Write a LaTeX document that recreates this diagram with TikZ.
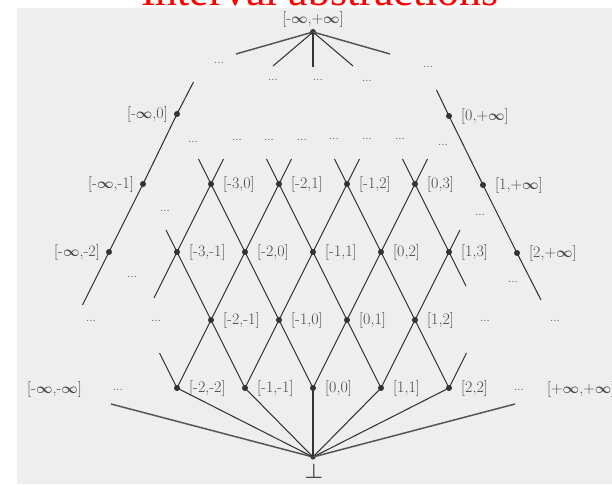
\documentclass[tikz,border=0pt]{standalone}
\usepackage{fontspec}
\newfontfamily\titlefont{Liberation Serif}
\definecolor{bgc}{HTML}{EEEEEE}
\definecolor{linec}{HTML}{333333}
\definecolor{labc}{HTML}{484848}
\definecolor{fanc}{HTML}{555555}
\newcommand\infy{{\fontsize{14}{16}\selectfont\boldmath$\infty$}}
\begin{document}
\begin{tikzpicture}[x=1pt,y=-1pt,
  dot/.style={circle,fill=linec,inner sep=0pt,minimum size=6pt},
  lab/.style={inner sep=0pt,text=labc,font=\fontsize{16}{18}\selectfont},
  dd/.style={inner sep=0pt,text=labc,font=\fontsize{12}{14}\selectfont},
  edge/.style={draw=linec,line width=1.05pt},
  fan/.style={draw=fanc,line width=1.5pt}]
\useasboundingbox (0,0) rectangle (612,484);
\fill[bgc] (17,8) rectangle (612,484);
\node[font=\titlefont\fontsize{44}{50}\selectfont,text=red,anchor=base,inner sep=0pt] (title) at (320,5.5) {Interval abstractions};

% dots
\node[dot] (top) at (313,32) {};
\node[dot,minimum size=5pt] (bot) at (313,457) {};
\node[dot] (mi0) at (177,114) {};
\node[dot] (mi1) at (143,184) {};
\node[dot] (mi2) at (109,252) {};
\node[dot] (pi0) at (449,116) {};
\node[dot] (pi1) at (483,185) {};
\node[dot] (pi2) at (517,253) {};
\node[dot] (a30) at (211,184) {};
\node[dot] (a21) at (279,184) {};
\node[dot] (a12) at (347,184) {};
\node[dot] (a03) at (415,184) {};
\node[dot] (b31) at (177,252) {};
\node[dot] (b20) at (245,252) {};
\node[dot] (b11) at (313,252) {};
\node[dot] (b02) at (381,252) {};
\node[dot] (b13) at (449,252) {};
\node[dot] (c21) at (211,320) {};
\node[dot] (c10) at (279,320) {};
\node[dot] (c01) at (347,320) {};
\node[dot] (c12) at (415,320) {};
\node[dot] (d22) at (177,388) {};
\node[dot] (d11) at (245,388) {};
\node[dot] (d00) at (313,388) {};
\node[dot] (e11) at (381,388) {};
\node[dot] (e22) at (449,388) {};

% free ends
\coordinate (tf1) at (236,54);
\coordinate (tf2) at (273,66);
\coordinate (tf3) at (313,67);
\coordinate (tf4) at (353,66);
\coordinate (tf5) at (390,54);
\coordinate (bf1) at (111,404);
\coordinate (bf2) at (515,404);
\coordinate (lt) at (193.5,82);
\coordinate (lb) at (82.5,305);
\coordinate (rt) at (436.5,90);
\coordinate (rb) at (541,300);
\coordinate (x1) at (198.5,159);
\coordinate (x2) at (266.5,159);
\coordinate (x3) at (334.5,159);
\coordinate (x4) at (402.5,159);
\coordinate (y1) at (223.5,159);
\coordinate (y2) at (291.5,159);
\coordinate (y3) at (359.5,159);
\coordinate (y4) at (427.5,159);
\coordinate (x4e) at (466,286);
\coordinate (x5) at (166,230);
\coordinate (x6) at (159.5,353);
\coordinate (y1e) at (154,298);
\coordinate (y5) at (460,230);
\coordinate (y6) at (466.5,353);

% top fan
\draw[fan] (top.center) -- (tf1);
\draw[edge] (top.center) -- (tf2);
\draw[edge] (top.center) -- (tf3);
\draw[edge] (top.center) -- (tf4);
\draw[fan] (top.center) -- (tf5);
% infinite sides
\draw[edge] (lt) -- (mi0.center) -- (mi1.center) -- (mi2.center) -- (lb);
\draw[edge] (rt) -- (pi0.center) -- (pi1.center) -- (pi2.center) -- (rb);
% down-right lines
\draw[edge] (x1) -- (a30.center) -- (b20.center) -- (c10.center) -- (d00.center);
\draw[edge] (x2) -- (a21.center) -- (b11.center) -- (c01.center) -- (e11.center);
\draw[edge] (x3) -- (a12.center) -- (b02.center) -- (c12.center) -- (e22.center);
\draw[edge] (x4) -- (a03.center) -- (b13.center) -- (x4e);
\draw[edge] (x5) -- (b31.center) -- (c21.center) -- (d11.center);
\draw[edge] (x6) -- (d22.center);
% down-left lines
\draw[edge] (y1) -- (a30.center) -- (b31.center) -- (y1e);
\draw[edge] (y2) -- (a21.center) -- (b20.center) -- (c21.center) -- (d22.center);
\draw[edge] (y3) -- (a12.center) -- (b11.center) -- (c10.center) -- (d11.center);
\draw[edge] (y4) -- (a03.center) -- (b02.center) -- (c01.center) -- (d00.center);
\draw[edge] (y5) -- (b13.center) -- (c12.center) -- (e11.center);
\draw[edge] (y6) -- (e22.center);
% bottom fan
\draw[fan] (bot.center) -- (bf1);
\draw[edge] (bot.center) -- (d22.center);
\draw[edge] (bot.center) -- (d11.center);
\draw[edge] (bot.center) -- (d00.center);
\draw[edge] (bot.center) -- (e11.center);
\draw[edge] (bot.center) -- (e22.center);
\draw[fan] (bot.center) -- (bf2);

% labels
\node[lab] (ltop) at (313,20) {[-\infy,+\infy]};
\node[lab,anchor=east] (lmi0) at ([xshift=-9pt]mi0.center) {[-\infy,0]};
\node[lab,anchor=east] (lmi1) at ([xshift=-9pt]mi1.center) {[-\infy,-1]};
\node[lab,anchor=east] (lmi2) at ([xshift=-9pt]mi2.center) {[-\infy,-2]};
\node[lab,anchor=west] (lpi0) at ([xshift=12pt]pi0.center) {[0,+\infy]};
\node[lab,anchor=west] (lpi1) at ([xshift=12pt]pi1.center) {[1,+\infy]};
\node[lab,anchor=west] (lpi2) at ([xshift=12pt]pi2.center) {[2,+\infy]};
\node[lab,anchor=west] (la30) at ([xshift=12pt]a30.center) {[-3,0]};
\node[lab,anchor=west] (la21) at ([xshift=12pt]a21.center) {[-2,1]};
\node[lab,anchor=west] (la12) at ([xshift=12pt]a12.center) {[-1,2]};
\node[lab,anchor=west] (la03) at ([xshift=12pt]a03.center) {[0,3]};
\node[lab,anchor=west] (lb31) at ([xshift=12pt]b31.center) {[-3,-1]};
\node[lab,anchor=west] (lb20) at ([xshift=12pt]b20.center) {[-2,0]};
\node[lab,anchor=west] (lb11) at ([xshift=12pt]b11.center) {[-1,1]};
\node[lab,anchor=west] (lb02) at ([xshift=12pt]b02.center) {[0,2]};
\node[lab,anchor=west] (lb13) at ([xshift=12pt]b13.center) {[1,3]};
\node[lab,anchor=west] (lc21) at ([xshift=12pt]c21.center) {[-2,-1]};
\node[lab,anchor=west] (lc10) at ([xshift=12pt]c10.center) {[-1,0]};
\node[lab,anchor=west] (lc01) at ([xshift=12pt]c01.center) {[0,1]};
\node[lab,anchor=west] (lc12) at ([xshift=12pt]c12.center) {[1,2]};
\node[lab,anchor=west] (ld22) at ([xshift=12pt]d22.center) {[-2,-2]};
\node[lab,anchor=west] (ld11) at ([xshift=12pt]d11.center) {[-1,-1]};
\node[lab,anchor=west] (ld00) at ([xshift=12pt]d00.center) {[0,0]};
\node[lab,anchor=west] (le11) at ([xshift=12pt]e11.center) {[1,1]};
\node[lab,anchor=west] (le22) at ([xshift=12pt]e22.center) {[2,2]};
\node[lab,anchor=west] (lmm) at (27,389) {[-\infy,-\infy]};
\node[lab,anchor=west] (lpp) at (547,389) {[+\infy,+\infy]};
\node[lab,font=\fontsize{20}{22}\selectfont\boldmath] (lbot) at (314,471) {$\perp$};

% ellipses
\node[dd] (e1) at (219,63) {...};
\node[dd] (e2) at (273,80) {...};
\node[dd] (e3) at (318,80) {...};
\node[dd] (e4) at (367,81) {...};
\node[dd] (e5) at (428,67) {...};
\node[dd] (e6) at (193,142) {...};
\node[dd] (e7) at (237,140) {...};
\node[dd] (e8) at (269,140) {...};
\node[dd] (e9) at (302,140) {...};
\node[dd] (e10) at (334,139) {...};
\node[dd] (e11) at (367,139) {...};
\node[dd] (e12) at (400,139) {...};
\node[dd] (e13) at (443,145) {...};
\node[dd] (e14) at (165,211) {...};
\node[dd] (e15) at (480,215) {...};
\node[dd] (e16) at (132,277) {...};
\node[dd] (e17) at (513,282) {...};
\node[dd] (e18) at (91,321) {...};
\node[dd] (e19) at (156,321) {...};
\node[dd] (e20) at (485,321) {...};
\node[dd] (e21) at (555,321) {...};
\node[dd] (e22) at (118,390) {...};
\node[dd] (e23) at (519,390) {...};
\end{tikzpicture}
\end{document}
